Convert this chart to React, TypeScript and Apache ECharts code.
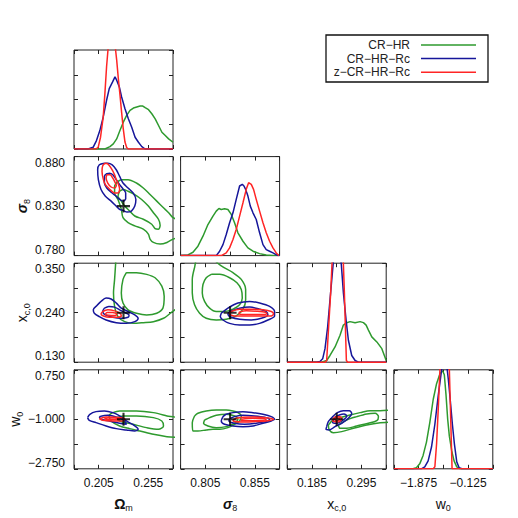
import React, { useEffect, useRef } from "react";
import * as echarts from "echarts";

// ---------- parameters ----------
const PARAM_LABELS = ["{g|Ω}{s|m}", "{gi|σ}{s|8}", "{v|x}{s|c,0}", "{v|w}{s|0}"];
const PARAM_MIN = [0.18, 0.78, 0.13, -2.75];
const PARAM_MAX = [0.28, 0.88, 0.35, 0.75];
const PARAM_INTERVAL = [0.025, 0.025, 0.055, 0.875];
const X_TICK_LABELS = [[0.205, 0.255], [0.805, 0.855], [0.185, 0.295], [-1.875, -0.125]];
const Y_TICK_LABELS = [[], [0.78, 0.83, 0.88], [0.13, 0.24, 0.35], [-2.75, -1.0, 0.75]];
const FIDUCIAL = [0.23, 0.83, 0.24, -1.0];
const DIAG_MIN = 0;
const DIAG_MAX = 1;
const DIAG_INTERVAL = 0.25;

const SERIES_NAMES = ["CR\u2212HR", "CR\u2212HR\u2212Rc", "z\u2212CR\u2212HR\u2212Rc"];
const SERIES_COLORS = ["#2e9a2e", "#16169a", "#ff2525"];

// ---------- 1D marginals ----------
const HIST_OM_CRHR = [[0.18,0],[0.2112,0],[0.2163,0.024],[0.2197,0.051],[0.2231,0.102],[0.2264,0.186],[0.2298,0.271],[0.2332,0.339],[0.2366,0.390],[0.2400,0.414],[0.2434,0.424],[0.2468,0.434],[0.2495,0.434],[0.2519,0.417],[0.2553,0.397],[0.2586,0.356],[0.2620,0.305],[0.2654,0.237],[0.2688,0.169],[0.2722,0.136],[0.2756,0.102],[0.28,0.068]];
const HIST_OM_RC = [[0.18,0],[0.1942,0],[0.1993,0.017],[0.2027,0.085],[0.2061,0.186],[0.2095,0.322],[0.2129,0.492],[0.2156,0.610],[0.2190,0.678],[0.2214,0.729],[0.2231,0.695],[0.2258,0.627],[0.2281,0.525],[0.2315,0.407],[0.2349,0.305],[0.2383,0.220],[0.2417,0.119],[0.2451,0.068],[0.2485,0.024],[0.2519,0],[0.28,0]];
const HIST_OM_Z = [[0.18,0],[0.2020,0],[0.2044,0.017],[0.2068,0.119],[0.2095,0.322],[0.2112,0.559],[0.2129,0.831],[0.2146,1.034],[0.2163,1.2],[0.2186,1.3],[0.2207,1.2],[0.2220,1.0],[0.2231,0.9],[0.2247,0.72],[0.2264,0.55],[0.2281,0.37],[0.2298,0.2],[0.2315,0.07],[0.2332,0.015],[0.2349,0],[0.28,0]];

const HIST_S8_CRHR = [[0.78,0],[0.7874,0.007],[0.7925,0.034],[0.7975,0.095],[0.8026,0.196],[0.8076,0.314],[0.8127,0.399],[0.8160,0.449],[0.8187,0.476],[0.8211,0.466],[0.8244,0.473],[0.8278,0.466],[0.8312,0.416],[0.8345,0.331],[0.8379,0.230],[0.8430,0.145],[0.8480,0.078],[0.8531,0.044],[0.8598,0.020],[0.8665,0.007],[0.8733,0],[0.88,0]];
const HIST_S8_RC = [[0.78,0],[0.8160,0],[0.8194,0.044],[0.8228,0.111],[0.8261,0.213],[0.8295,0.331],[0.8329,0.432],[0.8362,0.568],[0.8396,0.703],[0.8423,0.720],[0.8440,0.703],[0.8457,0.669],[0.8480,0.601],[0.8504,0.500],[0.8531,0.432],[0.8564,0.365],[0.8598,0.230],[0.8632,0.111],[0.8665,0.061],[0.8699,0.044],[0.8733,0.027],[0.8783,0],[0.88,0]];
const HIST_S8_Z = [[0.78,0],[0.8211,0],[0.8261,0.027],[0.8295,0.078],[0.8329,0.162],[0.8362,0.264],[0.8396,0.399],[0.8430,0.534],[0.8463,0.669],[0.8487,0.736],[0.8514,0.720],[0.8537,0.669],[0.8564,0.568],[0.8598,0.449],[0.8632,0.331],[0.8665,0.230],[0.8699,0.145],[0.8733,0.078],[0.8766,0.027],[0.8793,0],[0.88,0]];

const HIST_XC_CRHR = [[0.13,0],[0.2065,0],[0.2177,0.017],[0.2251,0.068],[0.2363,0.154],[0.2474,0.273],[0.2548,0.375],[0.2623,0.399],[0.2697,0.410],[0.2809,0.399],[0.2920,0.410],[0.2994,0.400],[0.3054,0.375],[0.3105,0.324],[0.3180,0.256],[0.3292,0.205],[0.3403,0.137],[0.35,0.017]];
const HIST_XC_RC = [[0.13,0],[0.1954,0],[0.2028,0.007],[0.2088,0.034],[0.2140,0.137],[0.2199,0.358],[0.2251,0.631],[0.2311,0.939],[0.2363,1.2],[0.2415,1.25],[0.2474,1.1],[0.2504,0.98],[0.2549,0.700],[0.2608,0.427],[0.2660,0.222],[0.2734,0.068],[0.2809,0.017],[0.2883,0],[0.35,0]];
const HIST_XC_Z = [[0.13,0],[0.2147,0],[0.2177,0.017],[0.2221,0.358],[0.2266,0.700],[0.2296,1.0],[0.2363,1.35],[0.2459,1.35],[0.2548,1.0],[0.2571,0.700],[0.2593,0.358],[0.2615,0.017],[0.2645,0],[0.35,0]];

const HIST_W0_CRHR = [[-2.75,0],[-2.071,0],[-1.952,0.010],[-1.833,0.05],[-1.714,0.135],[-1.595,0.27],[-1.476,0.47],[-1.357,0.70],[-1.238,0.86],[-1.119,0.96],[-1.024,0.99],[-0.964,0.95],[-0.905,0.75],[-0.845,0.50],[-0.786,0.33],[-0.702,0.18],[-0.619,0.08],[-0.524,0.02],[-0.405,0],[0.75,0]];
const HIST_W0_RC = [[-2.75,0],[-1.774,0],[-1.655,0.02],[-1.536,0.08],[-1.417,0.22],[-1.298,0.45],[-1.179,0.74],[-1.060,1.0],[-0.964,1.2],[-0.881,1.05],[-0.821,0.9],[-0.762,0.72],[-0.679,0.45],[-0.607,0.25],[-0.524,0.07],[-0.440,0.01],[-0.345,0],[0.75,0]];
const HIST_W0_Z = [[-2.75,0],[-1.357,0],[-1.298,0.02],[-1.238,0.25],[-1.179,0.60],[-1.119,1.0],[-1.0,1.4],[-0.821,1.4],[-0.786,1.0],[-0.738,0.5],[-0.69,0],[0.75,0]];

// ---------- 2D contours (outer = 95%, inner = 68%) ----------
// Omega_m vs sigma_8
const C_OM_S8_CRHR_OUT = [[0.2244,0.8550],[0.2210,0.8500],[0.2210,0.8433],[0.2244,0.8367],[0.2278,0.8267],[0.2295,0.8183],[0.2346,0.8133],[0.2414,0.8100],[0.2500,0.8067],[0.2551,0.8017],[0.2568,0.7967],[0.2602,0.7933],[0.2670,0.7917],[0.2739,0.7933],[0.2800,0.7967],[0.2858,0.7993],[0.2858,0.8150],[0.2800,0.8183],[0.2756,0.8233],[0.2704,0.8283],[0.2636,0.8350],[0.2568,0.8417],[0.2500,0.8483],[0.2431,0.8533],[0.2346,0.8567],[0.2278,0.8567]];
const C_OM_S8_CRHR_IN = [[0.2261,0.8450],[0.2244,0.8400],[0.2278,0.8350],[0.2312,0.8300],[0.2363,0.8250],[0.2414,0.8200],[0.2500,0.8167],[0.2585,0.8117],[0.2619,0.8073],[0.2653,0.8067],[0.2670,0.8107],[0.2653,0.8167],[0.2602,0.8233],[0.2551,0.8300],[0.2483,0.8367],[0.2414,0.8417],[0.2346,0.8450],[0.2295,0.8467]];
const C_OM_S8_RC_OUT = [[0.2107,0.8733],[0.2056,0.8717],[0.2039,0.8667],[0.2046,0.8567],[0.2073,0.8467],[0.2117,0.8400],[0.2175,0.8350],[0.2227,0.8300],[0.2261,0.8267],[0.2295,0.8257],[0.2336,0.8240],[0.2380,0.8250],[0.2414,0.8300],[0.2425,0.8367],[0.2397,0.8433],[0.2346,0.8483],[0.2295,0.8533],[0.2261,0.8600],[0.2227,0.8667],[0.2186,0.8717],[0.2141,0.8733]];
const C_OM_S8_RC_IN = [[0.2131,0.8627],[0.2107,0.8600],[0.2107,0.8533],[0.2131,0.8483],[0.2175,0.8440],[0.2227,0.8400],[0.2261,0.8367],[0.2295,0.8350],[0.2322,0.8373],[0.2322,0.8433],[0.2295,0.8473],[0.2261,0.8517],[0.2227,0.8567],[0.2192,0.8617],[0.2158,0.8633]];
const C_OM_S8_Z_OUT = [[0.2117,0.8733],[0.2090,0.8707],[0.2083,0.8650],[0.2097,0.8567],[0.2117,0.8517],[0.2158,0.8473],[0.2210,0.8433],[0.2244,0.8433],[0.2261,0.8473],[0.2244,0.8533],[0.2227,0.8567],[0.2210,0.8617],[0.2175,0.8683],[0.2141,0.8727]];
const C_OM_S8_Z_IN = [[0.2131,0.8617],[0.2124,0.8583],[0.2141,0.8533],[0.2175,0.8493],[0.2210,0.8483],[0.2227,0.8507],[0.2210,0.8550],[0.2192,0.8583],[0.2165,0.8617]];

// Omega_m vs x_c,0
const C_OM_XC_CRHR_OUT = [[0.2227,0.374],[0.2220,0.3477],[0.2210,0.3140],[0.2199,0.2839],[0.2210,0.2539],[0.2244,0.2313],[0.2312,0.2201],[0.2397,0.2163],[0.2500,0.2178],[0.2602,0.2201],[0.2704,0.2276],[0.2773,0.2389],[0.2841,0.2539],[0.2841,0.374]];
const C_OM_XC_CRHR_IN = [[0.2329,0.3290],[0.2295,0.3140],[0.2278,0.2839],[0.2295,0.2614],[0.2346,0.2464],[0.2431,0.2389],[0.2534,0.2351],[0.2636,0.2389],[0.2698,0.2501],[0.2711,0.2764],[0.2687,0.2989],[0.2619,0.3177],[0.2534,0.3252],[0.2431,0.3290]];
const C_OM_XC_RC_OUT = [[0.2022,0.2539],[0.1995,0.2464],[0.2005,0.2389],[0.2056,0.2313],[0.2124,0.2238],[0.2227,0.2178],[0.2329,0.2163],[0.2414,0.2201],[0.2448,0.2276],[0.2414,0.2351],[0.2346,0.2426],[0.2278,0.2501],[0.2227,0.2614],[0.2175,0.2704],[0.2124,0.2726],[0.2073,0.2651]];
const C_OM_XC_RC_IN = [[0.2107,0.2501],[0.2090,0.2426],[0.2117,0.2351],[0.2192,0.2298],[0.2278,0.2276],[0.2346,0.2298],[0.2356,0.2351],[0.2312,0.2404],[0.2261,0.2464],[0.2210,0.2524],[0.2152,0.2539]];
const C_OM_XC_Z_OUT = [[0.2090,0.2426],[0.2073,0.2373],[0.2097,0.2328],[0.2158,0.2298],[0.2227,0.2298],[0.2278,0.2328],[0.2261,0.2389],[0.2210,0.2441],[0.2141,0.2464]];
const C_OM_XC_Z_IN = [[0.2131,0.2404],[0.2117,0.2373],[0.2152,0.2343],[0.2210,0.2336],[0.2233,0.2366],[0.2192,0.2404]];

// sigma_8 vs x_c,0
const C_S8_XC_CRHR_OUT = [[0.8110,0.3628],[0.8211,0.3440],[0.8329,0.3290],[0.8413,0.3140],[0.8457,0.2914],[0.8457,0.2689],[0.8430,0.2479],[0.8362,0.2328],[0.8261,0.2253],[0.8160,0.2238],[0.8059,0.2276],[0.7992,0.2389],[0.7941,0.2576],[0.7918,0.2839],[0.7918,0.3140],[0.7941,0.3402],[0.7975,0.3628]];
const C_S8_XC_CRHR_IN = [[0.8110,0.3252],[0.8059,0.3177],[0.8026,0.3027],[0.8019,0.2839],[0.8042,0.2651],[0.8093,0.2501],[0.8160,0.2426],[0.8244,0.2426],[0.8329,0.2479],[0.8396,0.2576],[0.8423,0.2726],[0.8413,0.2914],[0.8369,0.3064],[0.8295,0.3177],[0.8194,0.3252]];
const C_S8_XC_RC_OUT = [[0.8211,0.2389],[0.8201,0.2313],[0.8228,0.2238],[0.8295,0.2163],[0.8396,0.2126],[0.8497,0.2126],[0.8598,0.2163],[0.8682,0.2238],[0.8749,0.2328],[0.8749,0.2426],[0.8699,0.2539],[0.8598,0.2614],[0.8497,0.2651],[0.8379,0.2614],[0.8278,0.2501]];
const C_S8_XC_RC_IN = [[0.8295,0.2426],[0.8278,0.2373],[0.8312,0.2298],[0.8396,0.2253],[0.8514,0.2238],[0.8615,0.2276],[0.8682,0.2351],[0.8665,0.2426],[0.8598,0.2479],[0.8497,0.2524],[0.8396,0.2501]];
const C_S8_XC_Z_OUT = [[0.8312,0.2426],[0.8295,0.2373],[0.8345,0.2328],[0.8463,0.2328],[0.8598,0.2328],[0.8716,0.2328],[0.8739,0.2373],[0.8716,0.2426],[0.8632,0.2464],[0.8497,0.2479],[0.8396,0.2479]];
const C_S8_XC_Z_IN = [[0.8396,0.2419],[0.8389,0.2373],[0.8463,0.2358],[0.8598,0.2358],[0.8672,0.2373],[0.8659,0.2411],[0.8564,0.2434],[0.8463,0.2441]];

// Omega_m vs w_0
const C_OM_W0_CRHR_OUT = [[0.2152,-0.8586],[0.2175,-1.0589],[0.2261,-1.2357],[0.2363,-1.3300],[0.2466,-1.4125],[0.2602,-1.5303],[0.2739,-1.6128],[0.2841,-1.6364],[0.2841,-0.9764],[0.2739,-0.8822],[0.2602,-0.7643],[0.2431,-0.7054],[0.2261,-0.7054],[0.2192,-0.7643]];
const C_OM_W0_CRHR_IN = [[0.2227,-0.9411],[0.2261,-1.0589],[0.2397,-1.1768],[0.2534,-1.2946],[0.2653,-1.3536],[0.2704,-1.2357],[0.2687,-1.0589],[0.2602,-0.9411],[0.2431,-0.8822],[0.2295,-0.8822]];
const C_OM_W0_RC_OUT = [[0.1937,-0.9411],[0.1954,-1.0354],[0.2022,-1.1179],[0.2124,-1.2357],[0.2227,-1.3300],[0.2329,-1.3771],[0.2414,-1.4125],[0.2448,-1.3536],[0.2414,-1.2357],[0.2329,-1.0589],[0.2261,-0.8822],[0.2192,-0.7643],[0.2107,-0.7054],[0.2022,-0.7289],[0.1960,-0.8232]];
const C_OM_W0_RC_IN = [[0.2056,-0.9057],[0.2073,-1.0],[0.2158,-1.0589],[0.2261,-1.1414],[0.2329,-1.1768],[0.2312,-1.0589],[0.2244,-0.9411],[0.2141,-0.8586]];
const C_OM_W0_Z_OUT = [[0.2056,-0.9764],[0.2090,-1.0354],[0.2192,-1.0589],[0.2295,-1.0589],[0.2312,-0.9764],[0.2227,-0.9293],[0.2124,-0.9175]];
const C_OM_W0_Z_IN = [[0.2107,-0.9764],[0.2141,-1.0118],[0.2227,-1.0118],[0.2261,-0.9882],[0.2210,-0.9529],[0.2141,-0.9529]];

// sigma_8 vs w_0
const C_S8_W0_CRHR_OUT = [[0.7941,-0.8822],[0.7918,-1.1179],[0.7925,-1.4125],[0.7975,-1.4125],[0.8059,-1.3771],[0.8127,-1.3536],[0.8194,-1.3536],[0.8278,-1.2946],[0.8345,-1.1768],[0.8396,-1.0589],[0.8413,-0.8822],[0.8379,-0.7643],[0.8329,-0.7054],[0.8261,-0.6700],[0.8160,-0.6700],[0.8059,-0.7054],[0.7975,-0.7879]];
const C_S8_W0_CRHR_IN = [[0.8042,-1.0236],[0.8032,-1.1414],[0.8076,-1.2357],[0.8160,-1.2946],[0.8261,-1.2593],[0.8345,-1.1414],[0.8379,-1.0],[0.8345,-0.8822],[0.8261,-0.8232],[0.8160,-0.8586],[0.8093,-0.9411]];
const C_S8_W0_RC_OUT = [[0.8228,-0.9057],[0.8211,-1.0589],[0.8244,-1.1768],[0.8329,-1.2357],[0.8430,-1.2593],[0.8531,-1.2357],[0.8632,-1.1414],[0.8716,-1.0589],[0.8749,-1.0],[0.8716,-0.9057],[0.8632,-0.8232],[0.8531,-0.7643],[0.8430,-0.7289],[0.8329,-0.7643],[0.8261,-0.8232]];
const C_S8_W0_RC_IN = [[0.8295,-0.9764],[0.8288,-1.0589],[0.8345,-1.1414],[0.8446,-1.1768],[0.8564,-1.1414],[0.8665,-1.0707],[0.8699,-1.0],[0.8649,-0.9293],[0.8547,-0.8822],[0.8430,-0.8586],[0.8345,-0.9057]];
const C_S8_W0_Z_OUT = [[0.8345,-0.9764],[0.8329,-1.0471],[0.8413,-1.0943],[0.8531,-1.0825],[0.8665,-1.0589],[0.8739,-1.0],[0.8665,-0.9411],[0.8531,-0.9175],[0.8430,-0.9293]];
const C_S8_W0_Z_IN = [[0.8413,-1.0],[0.8413,-1.0471],[0.8531,-1.0471],[0.8665,-1.0236],[0.8649,-0.9764],[0.8531,-0.9646]];

// x_c,0 vs w_0
const C_XC_W0_CRHR_OUT = [[0.2214,-1.2003],[0.2236,-1.3771],[0.2325,-1.4714],[0.2511,-1.4361],[0.2771,-1.3182],[0.3068,-1.2003],[0.3366,-1.1179],[0.3626,-1.0825],[0.3626,-0.6700],[0.3366,-0.6936],[0.3143,-0.6936],[0.2920,-0.7643],[0.2697,-0.8468],[0.2511,-0.9293],[0.2325,-1.0236]];
const C_XC_W0_CRHR_IN = [[0.2437,-1.2003],[0.2474,-1.3182],[0.2623,-1.3182],[0.2845,-1.2357],[0.3105,-1.1414],[0.3291,-1.0471],[0.3328,-0.9057],[0.3254,-0.7879],[0.3068,-0.8114],[0.2845,-0.9057],[0.2623,-1.0236]];
const C_XC_W0_RC_OUT = [[0.2177,-1.2593],[0.2162,-1.3536],[0.2236,-1.3771],[0.2362,-1.2593],[0.2511,-1.1414],[0.2660,-0.9646],[0.2734,-0.7879],[0.2682,-0.6936],[0.2548,-0.6936],[0.2415,-0.7643],[0.2311,-0.9057],[0.2214,-1.0825]];
const C_XC_W0_RC_IN = [[0.2325,-1.0236],[0.2311,-1.1179],[0.2400,-1.1414],[0.2548,-1.0236],[0.2623,-0.8822],[0.2563,-0.8114],[0.2459,-0.8468],[0.2362,-0.9293]];
const C_XC_W0_Z_OUT = [[0.2325,-0.9646],[0.2311,-1.0471],[0.2400,-1.0943],[0.2474,-1.0707],[0.2511,-0.9646],[0.2474,-0.9057],[0.2385,-0.9057]];
const C_XC_W0_Z_IN = [[0.2362,-0.9882],[0.2385,-1.0471],[0.2444,-1.0354],[0.2467,-0.9764],[0.2415,-0.9529]];

// ---------- panel tables ----------
const DIAG_PANELS = [
  { p: 0, hists: [HIST_OM_CRHR, HIST_OM_RC, HIST_OM_Z] },
  { p: 1, hists: [HIST_S8_CRHR, HIST_S8_RC, HIST_S8_Z] },
  { p: 2, hists: [HIST_XC_CRHR, HIST_XC_RC, HIST_XC_Z] },
  { p: 3, hists: [HIST_W0_CRHR, HIST_W0_RC, HIST_W0_Z] },
];
const PAIR_PANELS = [
  { px: 0, py: 1, c: [[C_OM_S8_CRHR_OUT, C_OM_S8_CRHR_IN], [C_OM_S8_RC_OUT, C_OM_S8_RC_IN], [C_OM_S8_Z_OUT, C_OM_S8_Z_IN]] },
  { px: 0, py: 2, c: [[C_OM_XC_CRHR_OUT, C_OM_XC_CRHR_IN], [C_OM_XC_RC_OUT, C_OM_XC_RC_IN], [C_OM_XC_Z_OUT, C_OM_XC_Z_IN]] },
  { px: 1, py: 2, c: [[C_S8_XC_CRHR_OUT, C_S8_XC_CRHR_IN], [C_S8_XC_RC_OUT, C_S8_XC_RC_IN], [C_S8_XC_Z_OUT, C_S8_XC_Z_IN]] },
  { px: 0, py: 3, c: [[C_OM_W0_CRHR_OUT, C_OM_W0_CRHR_IN], [C_OM_W0_RC_OUT, C_OM_W0_RC_IN], [C_OM_W0_Z_OUT, C_OM_W0_Z_IN]] },
  { px: 1, py: 3, c: [[C_S8_W0_CRHR_OUT, C_S8_W0_CRHR_IN], [C_S8_W0_RC_OUT, C_S8_W0_RC_IN], [C_S8_W0_Z_OUT, C_S8_W0_Z_IN]] },
  { px: 2, py: 3, c: [[C_XC_W0_CRHR_OUT, C_XC_W0_CRHR_IN], [C_XC_W0_RC_OUT, C_XC_W0_RC_IN], [C_XC_W0_Z_OUT, C_XC_W0_Z_IN]] },
];

const FONT = "Liberation Sans, Arial, Helvetica, sans-serif";
const CROSS = "path://M-1.6,-10H1.6V-1.6H10V1.6H1.6V10H-1.6V1.6H-10V-1.6H-1.6Z";

const fmtTick = (v: number) => v.toFixed(3).replace("-", "\u2212");
const labelFmt = (list: number[]) => (v: number) =>
  list.some((t) => Math.abs(t - v) < 1e-6) ? fmtTick(v) : "";

const NAME_RICH = {
  g: { fontSize: 14, fontFamily: FONT, fontWeight: "bold", color: "#111", lineHeight: 18 },
  gi: { fontSize: 14, fontFamily: FONT, fontStyle: "italic", fontWeight: "bold", color: "#111", lineHeight: 18 },
  v: { fontSize: 14, fontFamily: FONT, color: "#111", lineHeight: 18 },
  s: { fontSize: 9, fontFamily: FONT, color: "#111", verticalAlign: "bottom", padding: [6, 0, 0, 0] },
};

function buildOption() {
  const L0 = 74, T0 = 50, STEP = 106.6, SIZE = 99;
  const grids: any[] = [];
  const xAxes: any[] = [];
  const yAxes: any[] = [];
  const series: any[] = [];
  const tick = { show: true, inside: true, length: 4, lineStyle: { color: "#222", width: 1 } };
  const noLine = { show: false, onZero: false };

  const addPanel = (row: number, col: number, diag: boolean) => {
    const g = grids.length;
    grids.push({
      left: L0 + col * STEP, top: T0 + row * STEP, width: SIZE, height: SIZE,
      show: true, borderColor: "#222", borderWidth: 1, backgroundColor: "transparent",
    });
    const xBase = {
      type: "value", gridIndex: g, min: PARAM_MIN[col], max: PARAM_MAX[col],
      interval: PARAM_INTERVAL[col], splitLine: { show: false }, axisLine: noLine,
      axisTick: tick,
    };
    const bottom = row === 3;
    xAxes.push({
      ...xBase, position: "bottom",
      axisLabel: bottom
        ? { show: true, margin: 8, fontSize: 12, color: "#111", fontFamily: FONT, formatter: labelFmt(X_TICK_LABELS[col]), showMinLabel: true, showMaxLabel: true }
        : { show: false },
      name: bottom ? PARAM_LABELS[col] : "",
      nameLocation: "middle", nameGap: 26,
      nameTextStyle: { rich: NAME_RICH },
    });
    xAxes.push({ ...xBase, position: "top", axisLabel: { show: false } });

    const yMin = diag ? DIAG_MIN : PARAM_MIN[row];
    const yMax = diag ? DIAG_MAX : PARAM_MAX[row];
    const yInt = diag ? DIAG_INTERVAL : PARAM_INTERVAL[row];
    const yBase = {
      type: "value", gridIndex: g, min: yMin, max: yMax, interval: yInt,
      splitLine: { show: false }, axisLine: noLine, axisTick: tick,
    };
    const left = col === 0 && !diag;
    yAxes.push({
      ...yBase, position: "left",
      axisLabel: left
        ? { show: true, margin: 9, fontSize: 12, color: "#111", fontFamily: FONT, formatter: labelFmt(Y_TICK_LABELS[row]), showMinLabel: true, showMaxLabel: true, verticalAlignMinLabel: "bottom", verticalAlignMaxLabel: "top" }
        : { show: false },
      name: left ? PARAM_LABELS[row] : "",
      nameLocation: "middle", nameGap: 35, nameRotate: 90,
      nameTextStyle: { rich: NAME_RICH },
    });
    yAxes.push({ ...yBase, position: "right", axisLabel: { show: false } });
    return g;
  };

  DIAG_PANELS.forEach((d) => {
    const g = addPanel(d.p, d.p, true);
    d.hists.forEach((h, s) => {
      series.push({
        type: "line", xAxisIndex: 2 * g, yAxisIndex: 2 * g, data: h,
        showSymbol: false, symbol: "none", silent: true, clip: true,
        lineStyle: { color: SERIES_COLORS[s], width: 1.5 }, z: 3 + s,
      });
    });
  });

  PAIR_PANELS.forEach((pp) => {
    const g = addPanel(pp.py, pp.px, false);
    pp.c.forEach((levels, s) => {
      levels.forEach((ring) => {
        series.push({
          type: "line", xAxisIndex: 2 * g, yAxisIndex: 2 * g,
          data: [...ring, ring[0]], showSymbol: false, symbol: "none", silent: true,
          clip: true, smooth: 0.3, lineStyle: { color: SERIES_COLORS[s], width: 1.5 }, z: 3 + s,
        });
      });
    });
    series.push({
      type: "scatter", xAxisIndex: 2 * g, yAxisIndex: 2 * g,
      data: [[FIDUCIAL[pp.px], FIDUCIAL[pp.py]]], symbol: CROSS, symbolSize: 13,
      itemStyle: { color: "#000" }, silent: true, z: 10,
    });
  });

  // legend box
  const LX = 326, LY = 35, LW = 162, LH = 47;
  const graphic: any[] = [
    { type: "rect", shape: { x: LX, y: LY, width: LW, height: LH }, style: { fill: "#fff", stroke: "#111", lineWidth: 1.3 }, z: 20 },
  ];
  SERIES_NAMES.forEach((name, i) => {
    const y = 45 + i * 13.6;
    graphic.push({
      type: "text", x: 410, y, z: 21,
      style: { text: name, fill: "#222", font: `12px ${FONT}`, align: "right", verticalAlign: "middle", textAlign: "right", textVerticalAlign: "middle" },
    });
    graphic.push({
      type: "line", shape: { x1: 421, y1: y, x2: 476, y2: y }, z: 21,
      style: { stroke: SERIES_COLORS[i], lineWidth: 1.5 },
    });
  });

  return {
    animation: false,
    backgroundColor: "#fff",
    textStyle: { fontFamily: FONT },
    grid: grids,
    xAxis: xAxes,
    yAxis: yAxes,
    series,
    graphic,
  };
}

export default function App() {
  const ref = useRef<HTMLDivElement>(null);
  useEffect(() => {
    if (!ref.current) return;
    const chart = echarts.init(ref.current, undefined, { renderer: "svg" });
    chart.setOption(buildOption() as any);
    return () => chart.dispose();
  }, []);
  return (
    <div
      ref={ref}
      style={{ position: "absolute", left: 0, top: 0, width: 518, height: 518, background: "#fff" }}
    />
  );
}
